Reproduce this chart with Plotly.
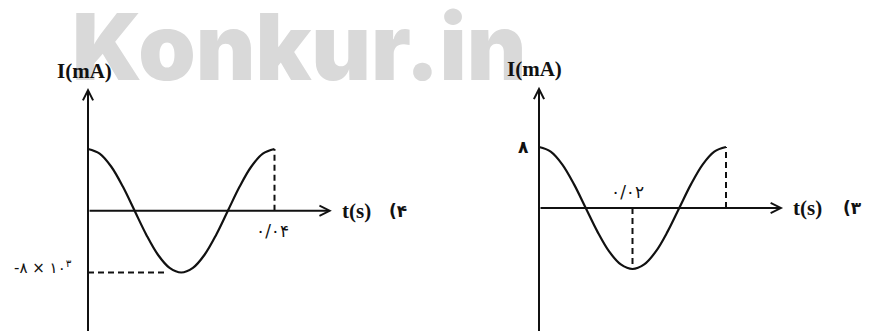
import plotly.graph_objects as go

# curve samples (one full period)
t_left = [0, 0.0025, 0.005, 0.0075, 0.01, 0.0125, 0.015, 0.0175, 0.02,
          0.0225, 0.025, 0.0275, 0.03, 0.0325, 0.035, 0.0375, 0.04]
i_left = [8000, 7400, 5700, 3100, 0, -3100, -5700, -7400, -8000,
          -7400, -5700, -3100, 0, 3100, 5700, 7400, 8000]

t_right = [0, 0.0025, 0.005, 0.0075, 0.01, 0.0125, 0.015, 0.0175, 0.02,
           0.0225, 0.025, 0.0275, 0.03, 0.0325, 0.035, 0.0375, 0.04]
i_right = [8, 7.4, 5.7, 3.1, 0, -3.1, -5.7, -7.4, -8,
           -7.4, -5.7, -3.1, 0, 3.1, 5.7, 7.4, 8]

# marked values
left_tmark = 0.04
left_imin = -8000
left_tlabel = "۰/۰۴"
left_ilabel = "-۸ × ۱۰<sup>۳</sup>"
right_tmark = 0.02
right_tend = 0.04
right_imax = 8
right_tlabel = "۰/۰۲"
right_ilabel = "۸"

INK = "#111111"
serif = dict(family="Liberation Serif", size=21, color=INK)
digits = dict(family="DejaVu Sans", size=17, color=INK)
digits_s = dict(family="DejaVu Sans", size=15, color=INK)
digits_b = dict(family="DejaVu Sans", size=17, color=INK, weight="bold")

fig = go.Figure()

fig.add_trace(go.Scatter(x=t_left, y=i_left, mode="lines", xaxis="x", yaxis="y",
                         line=dict(color=INK, width=2.2, shape="spline")))
fig.add_trace(go.Scatter(x=t_right, y=i_right, mode="lines", xaxis="x2", yaxis="y2",
                         line=dict(color=INK, width=2.2, shape="spline")))

dash = dict(color=INK, width=2, dash="6px,4px")
# left panel dashed guides
fig.add_trace(go.Scatter(x=[left_tmark, left_tmark], y=[0, i_left[-1]], mode="lines",
                         xaxis="x", yaxis="y", line=dash))
fig.add_trace(go.Scatter(x=[0, 0.017], y=[left_imin, left_imin], mode="lines",
                         xaxis="x", yaxis="y", line=dash))
# right panel dashed guides
fig.add_trace(go.Scatter(x=[right_tmark, right_tmark], y=[0, min(i_right)], mode="lines",
                         xaxis="x2", yaxis="y2", line=dash))
fig.add_trace(go.Scatter(x=[right_tend, right_tend], y=[0, right_imax], mode="lines",
                         xaxis="x2", yaxis="y2", line=dash))

ann = []
# watermark (page body has an 8px margin, figure is shifted by it)
ann.append(dict(text="Konkur.in", xref="paper", yref="paper", x=291 / 864,
                y=1 - 38 / 323, showarrow=False, xanchor="center", yanchor="middle",
                font=dict(family="Inter, Roboto, Lato, Liberation Sans", size=92,
                          color="#d9d9d9", weight=900)))


def arrow(xr, yr, x, y, ax, ay):
    return dict(xref=xr, yref=yr, axref=xr, ayref=yr, x=x, y=y, ax=ax, ay=ay,
                text="", showarrow=True, arrowhead=5, arrowsize=1, arrowwidth=2,
                arrowcolor=INK, standoff=0)


# axes with arrows
ann.append(arrow("x", "y", 0, 15900, 0, -16000))
ann.append(arrow("x", "y", 0.0523, 0, 0, 0))
ann.append(arrow("x2", "y2", 0, 15.9, 0, -17))
ann.append(arrow("x2", "y2", 0.0522, 0, 0, 0))


def label(xr, yr, x, y, text, font, xa="center"):
    return dict(xref=xr, yref=yr, x=x, y=y, text=text, showarrow=False,
                xanchor=xa, yanchor="middle", font=font)


# left panel text
ann.append(label("x", "y", -0.0007, 18150, "<b>I(mA)</b>", serif))
ann.append(label("x", "y", 0.0576, 0, "<b>t(s)</b>", serif))
ann.append(label("x", "y", 0.0665, 0, "(۴", digits_b))
ann.append(label("x", "y", left_tmark - 0.0005, -2600, left_tlabel, digits))
ann.append(label("x", "y", -0.0029, left_imin + 700, left_ilabel, digits_s, xa="right"))

# right panel text
ann.append(label("x2", "y2", -0.0009, 18.2, "<b>I(mA)</b>", serif))
ann.append(label("x2", "y2", 0.0575, 0, "<b>t(s)</b>", serif))
ann.append(label("x2", "y2", 0.0670, 0, "(۳", digits_b))
ann.append(label("x2", "y2", right_tmark - 0.001, 2.1, right_tlabel, digits))
ann.append(label("x2", "y2", -0.0033, right_imax, right_ilabel, digits_b))

# pixel mapping: left t=0 at x=80 px, right t=0 at x=531 px (inside the figure)
fig.update_layout(
    width=864, height=323, margin=dict(l=0, r=0, t=0, b=0),
    paper_bgcolor="white", plot_bgcolor="white", showlegend=False,
    xaxis=dict(range=[-0.017158, 0.168150], visible=False, fixedrange=True),
    yaxis=dict(range=[-15579, 26267], visible=False, fixedrange=True),
    xaxis2=dict(range=[-0.113583, 0.071230], visible=False, overlaying="x", fixedrange=True),
    yaxis2=dict(range=[-16.131, 26.230], visible=False, overlaying="y", fixedrange=True),
    annotations=ann,
)

fig.write_html("out.html")
